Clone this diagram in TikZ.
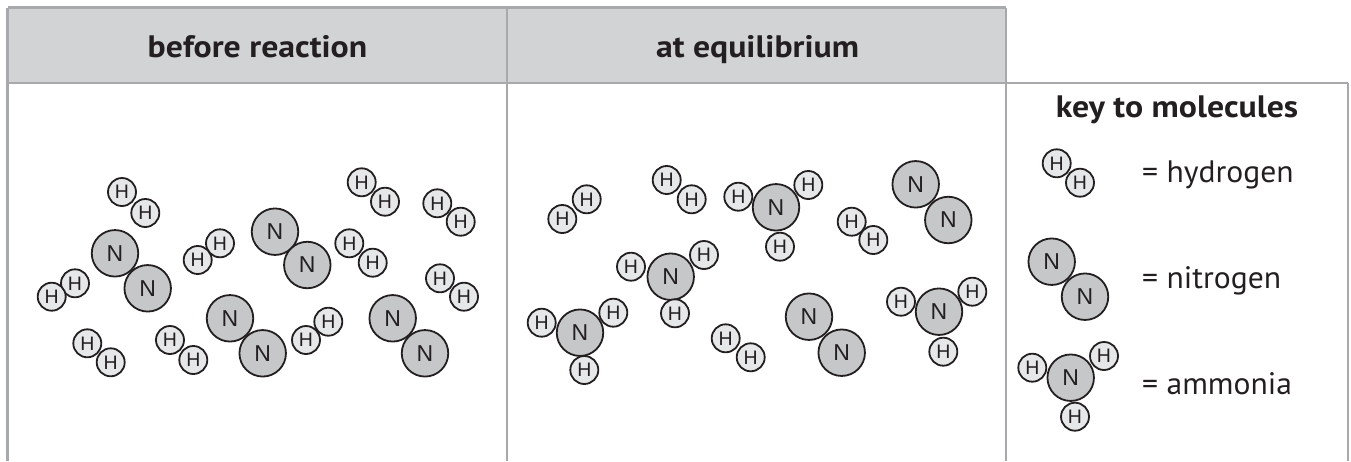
\documentclass[tikz,border=0pt]{standalone}
\usepackage{fontspec}
\setmainfont{PT Sans}
\newfontfamily\headfont[FakeStretch=1.09]{PT Sans}
\newfontfamily\keyfont[FakeStretch=1.02]{PT Sans}
\newfontfamily\atomfont{Liberation Sans}
\definecolor{gridgray}{HTML}{A7A9AC}
\definecolor{headfill}{HTML}{D1D3D4}
\definecolor{hfill}{HTML}{E6E7E8}
\definecolor{nfill}{HTML}{C6C7C9}
\definecolor{ink}{HTML}{231F20}
\newcommand\Hat[3]{\node[hatom] (#1) at (#2,#3) {H};}
\newcommand\Nat[3]{\node[natom] (#1) at (#2,#3) {N};}
\begin{document}
\begin{tikzpicture}[x=1pt,y=-1pt,
  hatom/.style={circle,draw=ink,line width=1.8pt,fill=hfill,minimum size=28pt,inner sep=0pt,font=\atomfont\fontsize{19.5}{19.5}\selectfont,text=ink},
  natom/.style={circle,draw=ink,line width=1.8pt,fill=nfill,minimum size=46.5pt,inner sep=0pt,font=\atomfont\fontsize{23}{23}\selectfont,text=ink},
  gridline/.style={draw=gridgray,line width=2.6pt},
  headtext/.style={font=\headfont\bfseries\fontsize{31}{31}\selectfont,text=ink,inner sep=0pt,anchor=base},
  keytext/.style={font=\keyfont\fontsize{31}{31}\selectfont,text=ink,inner sep=0pt,anchor=base west}]
\useasboundingbox (0,0) rectangle (1351,461);
% table
\fill[headfill] (7.5,7.5) rectangle (1006,83);
\draw[gridline] (7.5,7.5) -- (1006,7.5);
\draw[gridline] (7.5,7.5) -- (7.5,461);
\draw[gridline] (507,7.5) -- (507,461);
\draw[gridline] (1006,7.5) -- (1006,461);
\draw[gridline] (7.5,83) -- (1348,83);
\draw[gridline] (1348,83) -- (1348,461);
\node[headtext] (h1) at (257.5,57.3) {before reaction};
\node[headtext] (h2) at (757.5,57.3) {at equilibrium};
% before reaction
\Hat{a1}{122}{192}\Hat{a2}{145.3}{213}
\Nat{b1}{115}{253.3}\Nat{b2}{147.7}{288.3}
\Hat{c1}{75}{283.3}\Hat{c2}{51.7}{296.7}
\Hat{d1}{87.3}{343.3}\Hat{d2}{110.7}{362.3}
\Hat{e1}{220}{243.3}\Hat{e2}{197.7}{260}
\Nat{f1}{275}{231.7}\Nat{f2}{307.3}{265}
\Hat{g1}{170}{340}\Hat{g2}{193.3}{360}
\Nat{i1}{230}{318.3}\Nat{i2}{262.7}{353.3}
\Hat{j1}{328.3}{321.7}\Hat{j2}{306}{340}
\Hat{k1}{361.7}{182.3}\Hat{k2}{385}{201.7}
\Hat{l1}{349.3}{243.3}\Hat{l2}{372.7}{262.7}
\Nat{m1}{392.7}{318.3}\Nat{m2}{425}{353.3}
\Hat{n1}{437.3}{203.3}\Hat{n2}{460.7}{221.7}
\Hat{o1}{440}{278.3}\Hat{o2}{464}{296.7}
% at equilibrium
\Hat{p1}{586.7}{199.3}\Hat{p2}{562.3}{219}
\Hat{q1}{666.7}{180}\Hat{q2}{691.7}{199.3}
\Nat{r0}{776}{207.3}\Hat{r1}{738.3}{196.7}\Hat{r2}{808.3}{185}\Hat{r3}{780}{246.7}
\Hat{s1}{851.7}{221.7}\Hat{s2}{873.3}{240}
\Nat{t1}{915.7}{184.3}\Nat{t2}{948.3}{220}
\Nat{u0}{670.7}{276.7}\Hat{u1}{631}{266.7}\Hat{u2}{704}{255}\Hat{u3}{675}{313.3}
\Nat{v0}{580}{332.7}\Hat{v1}{541.7}{322.7}\Hat{v2}{613.3}{312.7}\Hat{v3}{584.3}{370}
\Hat{w1}{725.7}{338.3}\Hat{w2}{750.7}{357.3}
\Nat{x1}{809}{316.7}\Nat{x2}{841.7}{352.7}
\Nat{y0}{939}{311.7}\Hat{y1}{901}{301.7}\Hat{y2}{972.3}{291.7}\Hat{y3}{943.3}{351.7}
% key
\node[headtext] (kt) at (1177,117) {key to molecules};
\Hat{kh1}{1056.7}{163.3}\Hat{kh2}{1080}{182.7}
\node[keytext] (kl1) at (1142,182.7) {= hydrogen};
\Nat{kn1}{1051.7}{261.7}\Nat{kn2}{1085}{296.7}
\node[keytext] (kl2) at (1142,288.3) {= nitrogen};
\Nat{ka0}{1070.7}{377.7}\Hat{ka1}{1032.3}{367.7}\Hat{ka2}{1104}{356}\Hat{ka3}{1075}{416.7}
\node[keytext] (kl3) at (1142,394.3) {= ammonia};
\end{tikzpicture}
\end{document}
